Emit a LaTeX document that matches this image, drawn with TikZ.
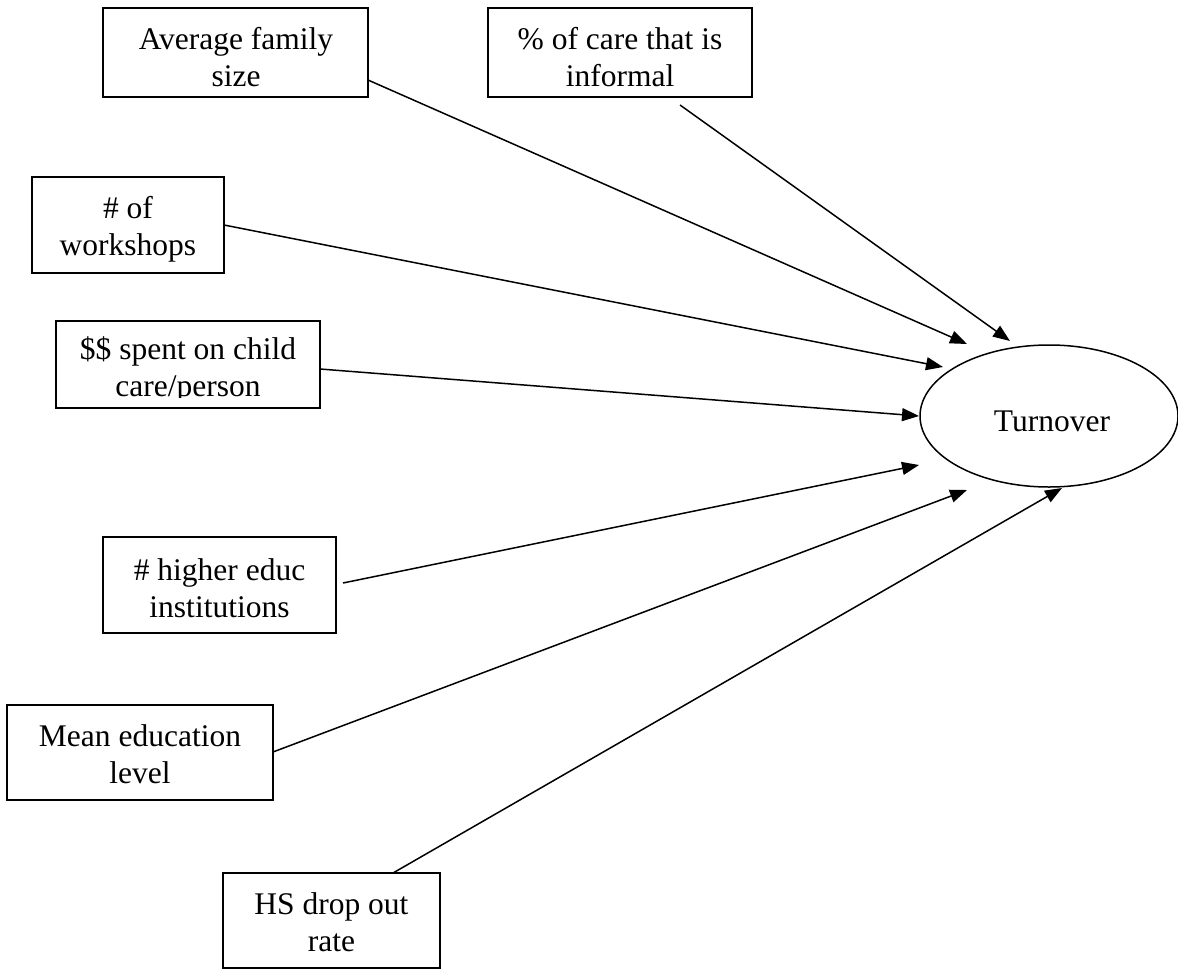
\documentclass[tikz,border=0pt]{standalone}
\usepackage{fontspec}
\setmainfont{Liberation Serif}
\usetikzlibrary{arrows.meta,shapes.geometric}
\begin{document}
\begin{tikzpicture}[x=1pt,y=-1pt,
  box/.style={draw,line width=1.7pt,inner sep=0pt},
  lbl/.style={align=center,font=\fontsize{31.5}{37}\selectfont,inner sep=0pt},
  arr/.style={line width=1.5pt,-{Triangle[length=17pt,width=13pt]}}]
\useasboundingbox (0,0) rectangle (1178,969);
% boxes
\node[box,minimum width=265,minimum height=89] (b1) at (235.5,52.5) {};
\node[box,minimum width=264,minimum height=89] (b2) at (620,52.5) {};
\node[box,minimum width=192,minimum height=96] (b3) at (128,225) {};
\node[box,minimum width=264,minimum height=87] (b4) at (188,364.5) {};
\node[box,minimum width=233,minimum height=96] (b5) at (219.5,585) {};
\node[box,minimum width=266,minimum height=95] (b6) at (140,752.5) {};
\node[box,minimum width=217,minimum height=95] (b7) at (331.5,920.5) {};
% labels
\node[lbl] (l1) at (236,57) {Average family\\size};
\node[lbl] (l2) at (620,57) {\% of care that is\\informal};
\node[lbl] (l3) at (128,229) {\# of\\workshops};
\begin{scope}
\clip (56,321) rectangle (320,397);
\node[lbl] (l4) at (188,370) {\$\$ spent on child\\care/person};
\end{scope}
\node[lbl] (l5) at (219.5,588) {\# higher educ\\institutions};
\node[lbl] (l6) at (140,754) {Mean education\\level};
\node[lbl] (l7) at (331.5,922) {HS drop out\\rate};
% ellipse
\node[draw,ellipse,line width=1.5pt,minimum width=258,minimum height=142,inner sep=0pt] (tv) at (1049,416) {};
\node[lbl] (tvl) at (1052,421) {Turnover};
% connector end points
\coordinate (s1) at (368,80);   \coordinate (t1) at (967,344);
\coordinate (s2) at (680,105);  \coordinate (t2) at (1010,341);
\coordinate (s3) at (224,225);  \coordinate (t3) at (943,367);
\coordinate (s4) at (320,369);  \coordinate (t4) at (919,416);
\coordinate (s5) at (343,583);  \coordinate (t5) at (919,465);
\coordinate (s6) at (273,752);  \coordinate (t6) at (967,490);
\coordinate (s7) at (393,873);  \coordinate (t7) at (1062,488);
\foreach \i in {1,...,7}{\draw[arr] (s\i) -- (t\i);}
\end{tikzpicture}
\end{document}
